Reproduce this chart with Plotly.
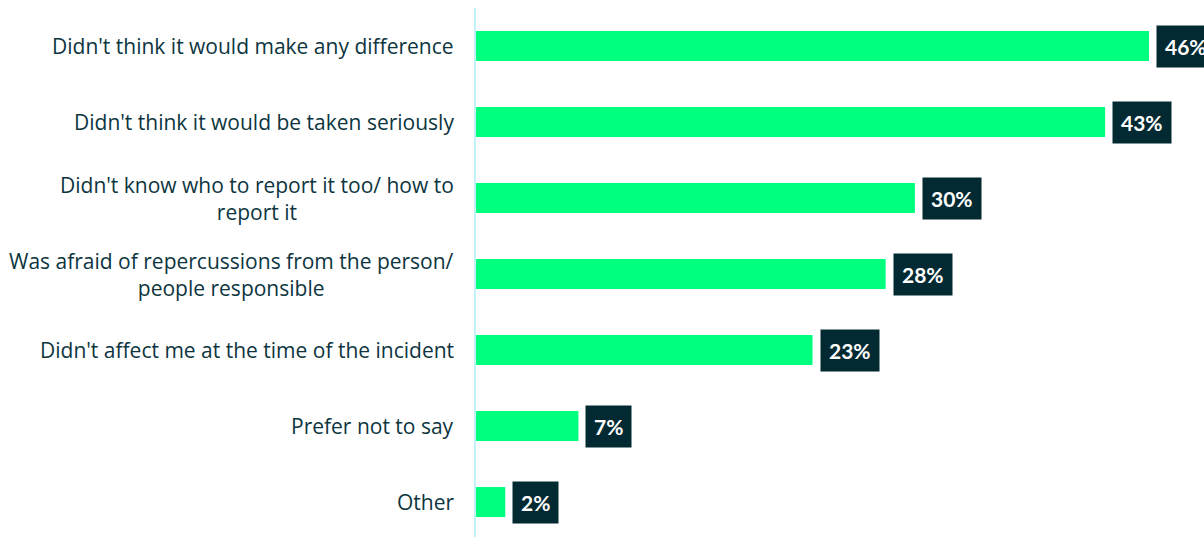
import plotly.graph_objects as go

# Survey results: reasons for not reporting an incident
reasons = [
    "Didn't think it would make any difference",
    "Didn't think it would be taken seriously",
    "Didn't know who to report it too/ how to<br>report it",
    "Was afraid of repercussions from the person/<br>people responsible",
    "Didn't affect me at the time of the incident",
    "Prefer not to say",
    "Other",
]
shares = [46, 43, 30, 28, 23, 7, 2]
share_labels = ["46%", "43%", "30%", "28%", "23%", "7%", "2%"]

BAR_GREEN = "#00FF7F"
LABEL_BG = "#032A33"
TEXT_DARK = "#0D3540"
AXIS_CYAN = "#C2F2F7"
LABEL_FONT = "Open Sans"
BADGE_FONT = "Lato"

fig = go.Figure(
    go.Bar(
        x=shares,
        y=reasons,
        orientation="h",
        marker=dict(color=BAR_GREEN, line=dict(width=0)),
        width=0.395,
        hoverinfo="skip",
    )
)

annotations = []
for r, v, lab in zip(reasons, shares, share_labels):
    # value badge right of each bar
    annotations.append(dict(
        x=v, y=r, xref="x", yref="y",
        text=f"<b>{lab}</b>",
        showarrow=False,
        xanchor="left", yanchor="middle",
        xshift=7,
        bgcolor=LABEL_BG,
        borderpad=8,
        font=dict(family=BADGE_FONT, size=21, color="white"),
    ))
    # category label left of the axis, centred lines
    annotations.append(dict(
        x=0, y=r, xref="x", yref="y",
        text=r,
        showarrow=False,
        xanchor="right", yanchor="middle",
        align="center",
        xshift=-20,
        font=dict(family=LABEL_FONT, size=21, color=TEXT_DARK),
    ))

fig.update_layout(
    width=1204,
    height=537,
    margin=dict(l=476, r=0, t=8, b=0),
    paper_bgcolor="white",
    plot_bgcolor="white",
    showlegend=False,
    bargap=0.6,
    annotations=annotations,
    xaxis=dict(
        range=[0, 49.76],
        visible=False,
        showgrid=False,
        zeroline=False,
        fixedrange=True,
    ),
    yaxis=dict(
        type="category",
        categoryorder="array",
        categoryarray=reasons,
        range=[6.46, -0.5],
        showticklabels=False,
        showgrid=False,
        zeroline=False,
        showline=True,
        linecolor=AXIS_CYAN,
        linewidth=2,
        ticks="",
        fixedrange=True,
    ),
)

fig.write_html("out.html")
